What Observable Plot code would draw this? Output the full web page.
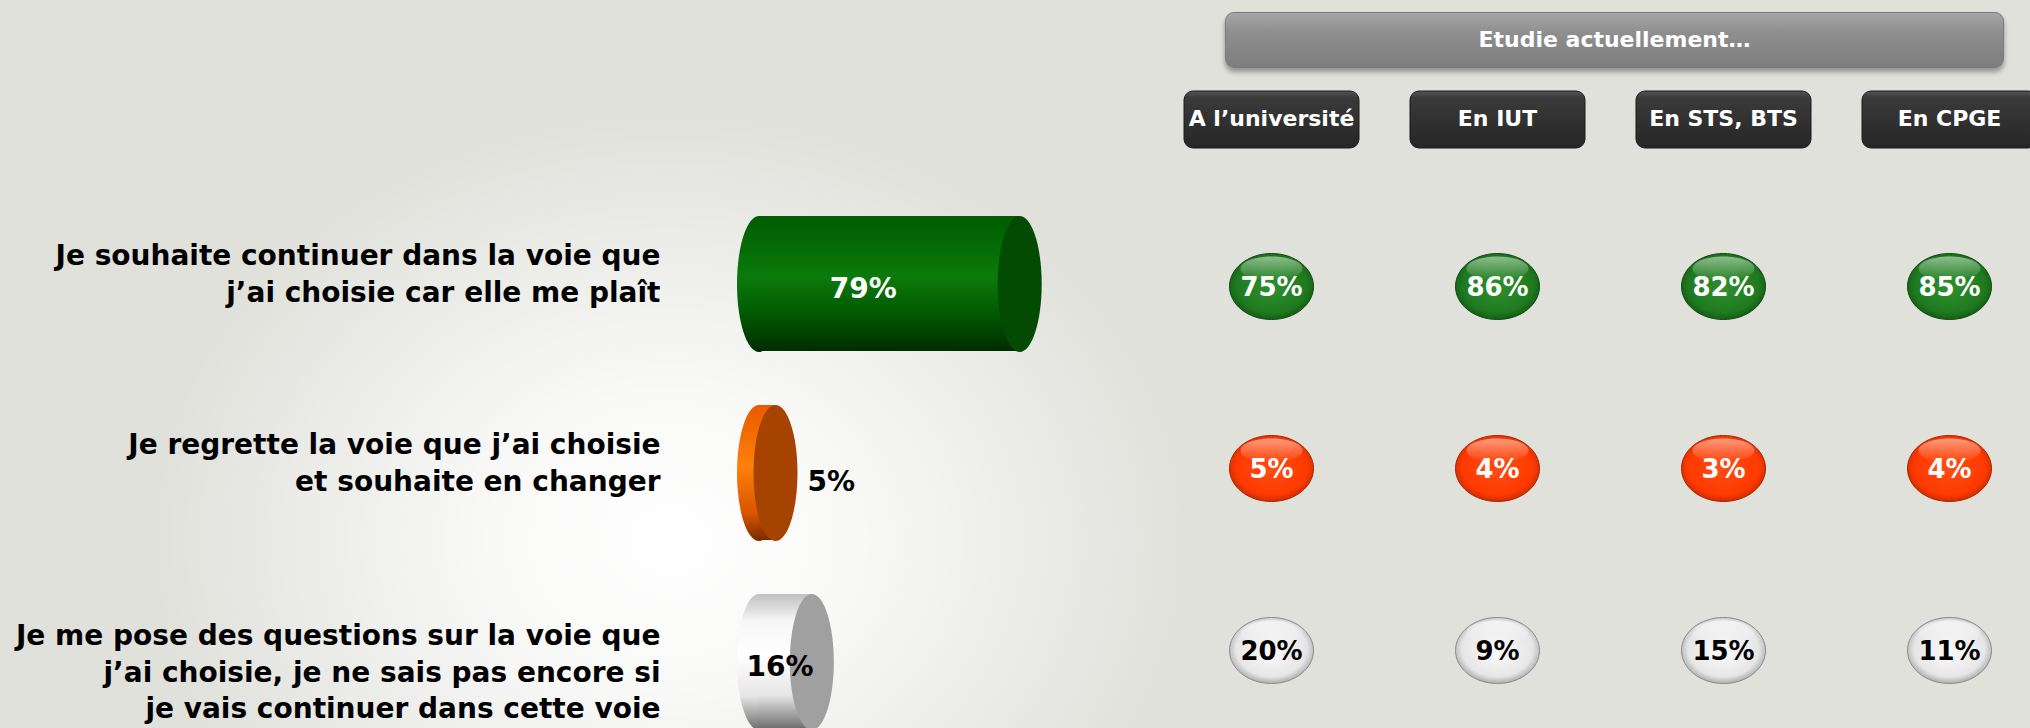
<!DOCTYPE html>
<html>
<head>
<meta charset="utf-8">
<script src="https://cdn.jsdelivr.net/npm/d3@7"></script>
<script src="https://cdn.jsdelivr.net/npm/@observablehq/plot@0.6"></script>
<style>
  body { margin: 0; background: #e0e1db; }
  #chart { position: relative; width: 2030px; height: 728px; overflow: hidden; background: #e0e1db; font-family: "DejaVu Sans", sans-serif; }
  #glow { position: absolute; left: 0; top: 0; width: 2030px; height: 728px;
    background: radial-gradient(ellipse 520px 430px at 670px 540px, rgba(255,255,255,1) 0%, rgba(255,255,255,0.8) 35%, rgba(255,255,255,0) 100%); }
  #chart svg { position: absolute; left: 0; top: 0; }
  #group { position: absolute; left: 1225px; top: 12px; width: 779px; height: 56px; box-sizing: border-box;
    border-radius: 9px; border: 1px solid #7a7a7a;
    background: linear-gradient(#a6a6a6, #8f8f8f 35%, #7d7d7d);
    box-shadow: 0 4px 5px rgba(0,0,0,0.35);
    color: #fff; font-weight: bold; font-size: 22px; line-height: 54px; text-align: center; }
</style>
</head>
<body>
<div id="chart"><div id="glow"></div></div>
<script>
// ---- data ----
const statements = [
  "Je souhaite continuer dans la voie que\nj’ai choisie car elle me plaît",
  "Je regrette la voie que j’ai choisie\net souhaite en changer",
  "Je me pose des questions sur la voie que\nj’ai choisie, je ne sais pas encore si\nje vais continuer dans cette voie"
];
const totals = [79, 5, 16];
const groupTitle = "Etudie actuellement…";
const columns = ["A l’université", "En IUT", "En STS, BTS", "En CPGE"];
const universite = [75, 5, 20];
const iut = [86, 4, 9];
const sts = [82, 3, 15];
const cpge = [85, 4, 11];
const byColumn = [universite, iut, sts, cpge];

// ---- styles ----
const palette = {
  body: ["url(#bodyG)", "url(#bodyO)", "url(#bodyW)"],
  cap: ["#034a03", "#a64300", "#a0a0a0"],
  bubble: ["url(#bubG)", "url(#bubO)", "url(#bubW)"],
  bubbleStroke: ["#0f4a0f", "#a82300", "#8c8c8c"],
  bubbleText: ["white", "white", "black"],
  barText: ["white", "black", "black"]
};

const rows = statements.map((s, i) => ({statement: s, i, total: totals[i], lines: s.split("\n").length}));
const cells = columns.flatMap((c, j) => statements.map((s, i) => ({column: c, statement: s, i, value: byColumn[j][i]})));

const ellipse = (rx, ry) => ({draw(c) {
  const k = 0.5523;
  c.moveTo(rx, 0);
  c.bezierCurveTo(rx, ry * k, rx * k, ry, 0, ry);
  c.bezierCurveTo(-rx * k, ry, -rx, ry * k, -rx, 0);
  c.bezierCurveTo(-rx, -ry * k, -rx * k, -ry, 0, -ry);
  c.bezierCurveTo(rx * k, -ry, rx, -ry * k, rx, 0);
  c.closePath();
}});
const roundRect = (w, h, r) => ({draw(c) {
  const x0 = -w / 2, y0 = -h / 2, x1 = w / 2, y1 = h / 2;
  c.moveTo(x0 + r, y0); c.lineTo(x1 - r, y0); c.arcTo(x1, y0, x1, y0 + r, r);
  c.lineTo(x1, y1 - r); c.arcTo(x1, y1, x1 - r, y1, r);
  c.lineTo(x0 + r, y1); c.arcTo(x0, y1, x0, y1 - r, r);
  c.lineTo(x0, y0 + r); c.arcTo(x0, y0, x0 + r, y0, r);
  c.closePath();
}});

const font = {fontFamily: "DejaVu Sans", fontWeight: "bold"};

// ---- cylinders ----
const bars = Plot.plot({
  width: 2030, height: 728, margin: 0,
  style: {background: "transparent", overflow: "visible"},
  x: {type: "linear", domain: [0, 100], range: [758.5, 1088.5], axis: null},
  y: {type: "band", domain: statements, range: [215, 731], paddingInner: 0.284, paddingOuter: 0, axis: null},
  color: {type: "identity"},
  marks: [
    Plot.text(rows.filter(d => d.lines < 3), {y: "statement", text: "statement", frameAnchor: "left", dx: 660, dy: -12,
      textAnchor: "end", lineAnchor: "middle", lineHeight: 1.3, fontSize: 28, fill: "black", ...font}),
    Plot.text(rows.filter(d => d.lines >= 3), {y: "statement", text: "statement", frameAnchor: "left", dx: 660, dy: 8,
      textAnchor: "end", lineAnchor: "middle", lineHeight: 1.3, fontSize: 28, fill: "black", ...font}),
    Plot.dot(rows, {x: () => 0, y: "statement", symbol: ellipse(22, 68), r: 5, fill: d => palette.body[d.i], stroke: "none"}),
    Plot.barX(rows, {x: "total", y: "statement", fill: d => palette.body[d.i]}),
    Plot.dot(rows, {x: "total", y: "statement", symbol: ellipse(22, 68), r: 5, fill: d => palette.cap[d.i], stroke: "none"}),
    Plot.text(rows.filter(d => d.total >= 10), {x: d => d.total * 0.4, y: "statement", text: d => d.total + "%", dy: 5,
      fill: d => palette.barText[d.i], fontSize: 28, ...font}),
    Plot.text(rows.filter(d => d.total < 10), {x: "total", y: "statement", text: d => d.total + "%", dx: 32, dy: 9,
      textAnchor: "start", fill: d => palette.barText[d.i], fontSize: 28, ...font})
  ]
});

// ---- bubbles by column ----
const grid = Plot.plot({
  width: 2030, height: 728, margin: 0,
  style: {background: "transparent", overflow: "visible"},
  x: {type: "point", domain: columns, range: [1270, 1949], padding: 0, axis: null},
  y: {type: "point", domain: statements, range: [286, 650], padding: 0, axis: null},
  color: {type: "identity"},
  marks: [
    Plot.dot(columns, {x: d => d, frameAnchor: "top", dy: 119, symbol: roundRect(175, 57, 9), r: 5,
      fill: "url(#boxG)", stroke: "#1a1a1a", strokeWidth: 1, ariaLabel: "colbox"}),
    Plot.text(columns, {x: d => d, text: d => d, frameAnchor: "top", dy: 118, lineAnchor: "middle",
      fill: "white", fontSize: 22, ...font}),
    Plot.dot(cells, {x: "column", y: "statement", symbol: ellipse(42, 33), r: 5,
      fill: d => palette.bubble[d.i], stroke: d => palette.bubbleStroke[d.i], strokeWidth: 1, ariaLabel: "bubble"}),
    Plot.dot(cells, {x: "column", y: "statement", symbol: ellipse(31, 12), r: 5, dy: -18,
      fill: "url(#hl)", stroke: "none"}),
    Plot.text(cells, {x: "column", y: "statement", text: d => d.value + "%", dy: 1,
      fill: d => palette.bubbleText[d.i], fontSize: 26, ...font})
  ]
});

const defs = `
<linearGradient id="bodyG" x1="0" y1="0" x2="0" y2="1">
  <stop offset="0" stop-color="#005c00"/><stop offset="0.45" stop-color="#0b7a0b"/>
  <stop offset="0.75" stop-color="#005600"/><stop offset="1" stop-color="#002c00"/></linearGradient>
<linearGradient id="bodyO" x1="0" y1="0" x2="0" y2="1">
  <stop offset="0" stop-color="#e85a00"/><stop offset="0.45" stop-color="#ff800a"/>
  <stop offset="0.8" stop-color="#d85400"/><stop offset="1" stop-color="#7a2a00"/></linearGradient>
<linearGradient id="bodyW" x1="0" y1="0" x2="0" y2="1">
  <stop offset="0" stop-color="#c0c0c0"/><stop offset="0.2" stop-color="#f6f6f6"/>
  <stop offset="0.45" stop-color="#ffffff"/><stop offset="0.75" stop-color="#e6e6e6"/><stop offset="1" stop-color="#6c6c6c"/></linearGradient>
<radialGradient id="bubG" cx="0.5" cy="0.45" r="0.6" fx="0.5" fy="0.55">
  <stop offset="0" stop-color="#2e8e2e"/><stop offset="0.7" stop-color="#1f7a1f"/><stop offset="1" stop-color="#0e4e0e"/></radialGradient>
<radialGradient id="bubO" cx="0.5" cy="0.45" r="0.6" fx="0.5" fy="0.55">
  <stop offset="0" stop-color="#ff4b12"/><stop offset="0.7" stop-color="#ff3a00"/><stop offset="1" stop-color="#b52600"/></radialGradient>
<radialGradient id="bubW" cx="0.5" cy="0.45" r="0.6" fx="0.5" fy="0.55">
  <stop offset="0" stop-color="#fafafa"/><stop offset="0.7" stop-color="#e6e6e6"/><stop offset="1" stop-color="#909090"/></radialGradient>
<linearGradient id="hl" x1="0" y1="0" x2="0" y2="1">
  <stop offset="0" stop-color="#fff" stop-opacity="0.5"/><stop offset="1" stop-color="#fff" stop-opacity="0"/></linearGradient>
<linearGradient id="boxG" x1="0" y1="0" x2="0" y2="1">
  <stop offset="0" stop-color="#555"/><stop offset="0.12" stop-color="#3a3a3a"/><stop offset="1" stop-color="#262626"/></linearGradient>
<filter id="shadow" x="-30%" y="-30%" width="160%" height="180%">
  <feDropShadow dx="0" dy="5" stdDeviation="3.5" flood-color="#000" flood-opacity="0.35"/></filter>`;

d3.select(grid).insert("defs", ":first-child").html(defs);
d3.select(grid).selectAll('g[aria-label="bubble"], g[aria-label="colbox"]').attr("filter", "url(#shadow)");

const chart = document.getElementById("chart");
chart.appendChild(bars);
chart.appendChild(grid);
const group = document.createElement("div");
group.id = "group";
group.textContent = groupTitle;
chart.appendChild(group);
</script>
</body>
</html>
